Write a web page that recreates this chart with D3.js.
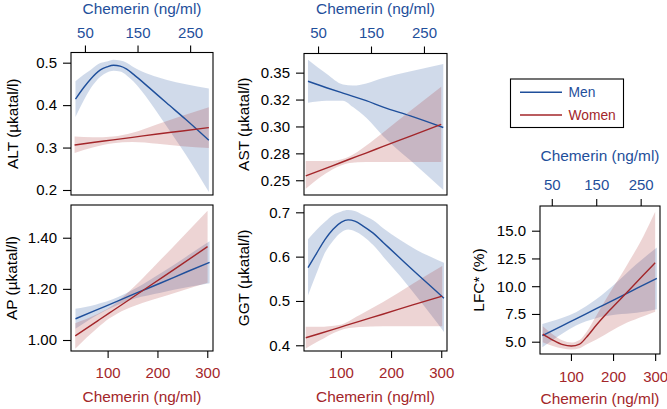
<!DOCTYPE html>
<html><head><meta charset="utf-8">
<script src="https://cdn.jsdelivr.net/npm/d3@7"></script>
<style>
body{margin:0;background:#fff}
svg{display:block}
text{font-family:"Liberation Sans",Arial,Helvetica,sans-serif}
</style>
</head><body>
<svg id="c" width="667" height="409"></svg>
<script>
// ---------------- data ----------------
const seriesNames = ["Men", "Women"];
const menTicks = [50, 150, 250];
const womTicks = [100, 200, 300];
const xTitle = "Chemerin (ng/ml)";

// ALT
const altMenX   = [32, 48.1, 60.6, 79.4, 91.9, 104.4, 116.9, 129.4, 141.9, 173.1, 204.4, 241.9, 285.6];
const altMenFit = [0.414, 0.442, 0.461, 0.483, 0.490, 0.494, 0.492, 0.485, 0.473, 0.440, 0.406, 0.366, 0.317];
const altMenLo  = [0.372, 0.412, 0.439, 0.467, 0.477, 0.481, 0.479, 0.470, 0.456, 0.408, 0.352, 0.283, 0.195];
const altMenHi  = [0.456, 0.472, 0.483, 0.499, 0.503, 0.507, 0.505, 0.500, 0.490, 0.472, 0.460, 0.449, 0.439];
const altWomX   = [33.7, 70, 111, 150, 200, 250, 303.2];
const altWomFit = [0.306, 0.312, 0.318, 0.324, 0.332, 0.339, 0.347];
const altWomLo  = [0.287, 0.300, 0.310, 0.313, 0.309, 0.303, 0.299];
const altWomHi  = [0.326, 0.324, 0.326, 0.335, 0.355, 0.375, 0.395];
const altTicks  = [0.2, 0.3, 0.4, 0.5];
const altLabels = ["0.2", "0.3", "0.4", "0.5"];

// AST
const astMenX   = [31, 66, 97, 116, 141, 173, 223, 286.5];
const astMenFit = [0.342, 0.336, 0.331, 0.328, 0.324, 0.318, 0.310, 0.299];
const astMenLo  = [0.322, 0.324, 0.324, 0.318, 0.308, 0.291, 0.269, 0.241];
const astMenHi  = [0.362, 0.349, 0.339, 0.338, 0.340, 0.345, 0.351, 0.358];
const astWomX   = [30, 83, 117, 150, 183, 240, 300];
const astWomFit = [0.254, 0.2634, 0.2695, 0.2753, 0.2812, 0.2913, 0.302];
const astWomLo  = [0.242, 0.260, 0.266, 0.267, 0.267, 0.267, 0.267];
const astWomHi  = [0.268, 0.268, 0.272, 0.282, 0.294, 0.315, 0.337];
const astTicks  = [0.25, 0.275, 0.30, 0.325, 0.35];
const astLabels = ["0.25", "0.28", "0.30", "0.32", "0.35"];

// AP
const apMenX    = [32, 70, 112, 145, 194, 244, 287];
const apMenFit  = [1.083, 1.116, 1.152, 1.181, 1.223, 1.267, 1.304];
const apMenLo   = [1.044, 1.094, 1.137, 1.162, 1.185, 1.206, 1.222];
const apMenHi   = [1.122, 1.138, 1.167, 1.200, 1.261, 1.328, 1.386];
const apWomX    = [35, 80, 103, 120, 152, 190, 247, 300.6];
const apWomFit  = [1.016, 1.075, 1.105, 1.127, 1.169, 1.219, 1.294, 1.365];
const apWomLo   = [0.966, 1.048, 1.084, 1.104, 1.132, 1.157, 1.192, 1.224];
const apWomHi   = [1.066, 1.102, 1.126, 1.150, 1.206, 1.281, 1.396, 1.506];
const apTicks   = [1.0, 1.2, 1.4];
const apLabels  = ["1.00", "1.20", "1.40"];

// GGT
const ggtMenX   = [31.1, 47, 62.7, 78.4, 94.2, 106.8, 119.4, 135.2, 154.1, 173, 204.5, 236.1, 267.6, 287.8];
const ggtMenFit = [0.575, 0.607, 0.638, 0.662, 0.678, 0.683, 0.680, 0.669, 0.653, 0.632, 0.597, 0.562, 0.528, 0.506];
const ggtMenLo  = [0.513, 0.562, 0.608, 0.636, 0.655, 0.661, 0.657, 0.646, 0.626, 0.600, 0.557, 0.510, 0.462, 0.430];
const ggtMenHi  = [0.639, 0.660, 0.678, 0.694, 0.702, 0.705, 0.703, 0.694, 0.682, 0.664, 0.638, 0.615, 0.597, 0.586];
const ggtWomX   = [30, 56.6, 96.6, 136.6, 183.3, 243.3, 302];
const ggtWomFit = [0.417, 0.426, 0.440, 0.454, 0.470, 0.491, 0.511];
const ggtWomLo  = [0.393, 0.410, 0.433, 0.441, 0.443, 0.443, 0.443];
const ggtWomHi  = [0.442, 0.442, 0.446, 0.468, 0.497, 0.539, 0.579];
const ggtTicks  = [0.4, 0.5, 0.6, 0.7];
const ggtLabels = ["0.4", "0.5", "0.6", "0.7"];

// LFC
const lfcMenX   = [28.8, 74.2, 104.5, 150, 195.5, 240.9, 286.4];
const lfcMenFit = [5.54, 6.45, 7.06, 7.97, 8.89, 9.80, 10.71];
const lfcMenLo  = [4.49, 5.75, 6.46, 7.12, 7.44, 7.60, 7.93];
const lfcMenHi  = [6.59, 7.15, 7.66, 8.82, 10.34, 12.00, 13.49];
const lfcWomX   = [33, 56.9, 80.8, 100.7, 120.6, 136.6, 160.5, 192.4, 232.2, 272.1, 300];
const lfcWomFit = [5.69, 5.15, 4.73, 4.61, 4.79, 5.39, 6.50, 7.85, 9.41, 11.0, 12.11];
const lfcWomLo  = [4.95, 4.62, 4.38, 4.30, 4.42, 4.75, 5.20, 5.90, 6.70, 7.30, 7.70];
const lfcWomHi  = [6.40, 5.65, 5.10, 4.92, 5.15, 5.85, 7.35, 9.40, 11.85, 14.50, 16.70];
const lfcTicks  = [5.0, 7.5, 10.0, 12.5, 15.0];
const lfcLabels = ["5.0", "7.5", "10.0", "12.5", "15.0"];

// ---------------- styling / layout ----------------
const BLUE = "#1f4f9b", RED = "#a3262a";
const menXDomain = [23.5, 293.5];
const womXDomain = [26.5, 311.5];

const zip = (xs, f, lo, hi) => xs.map((x, i) => ({x, f: f[i], lo: lo[i], hi: hi[i]}));

const panels = [
  {title: "ALT (µkatal/l)", x0: 71, x1: 213, y0: 52.5, y1: 195, yDom: [0.1882, 0.524], ticks: altTicks, labels: altLabels,
   men: zip(altMenX, altMenFit, altMenLo, altMenHi), wom: zip(altWomX, altWomFit, altWomLo, altWomHi),
   yTitleX: 12.5, top: {tick: 37.6, title: 13.7}},
  {title: "AST (µkatal/l)", x0: 304, x1: 447, y0: 53.5, y1: 195, yDom: [0.2363, 0.3678], ticks: astTicks, labels: astLabels,
   men: zip(astMenX, astMenFit, astMenLo, astMenHi), wom: zip(astWomX, astWomFit, astWomLo, astWomHi),
   yTitleX: 243.7, top: {tick: 37.6, title: 13.7}},
  {title: "AP (µkatal/l)", x0: 71, x1: 213, y0: 205, y1: 351, yDom: [0.957, 1.528], ticks: apTicks, labels: apLabels,
   men: zip(apMenX, apMenFit, apMenLo, apMenHi), wom: zip(apWomX, apWomFit, apWomLo, apWomHi),
   yTitleX: 12, bottom: {tick: 378, title: 402}},
  {title: "GGT (µkatal/l)", x0: 304, x1: 447, y0: 205, y1: 351, yDom: [0.3871, 0.7165], ticks: ggtTicks, labels: ggtLabels,
   men: zip(ggtMenX, ggtMenFit, ggtMenLo, ggtMenHi), wom: zip(ggtWomX, ggtWomFit, ggtWomLo, ggtWomHi),
   yTitleX: 243.7, bottom: {tick: 378, title: 402}},
  {title: "LFC* (%)", x0: 540, x1: 660, y0: 206, y1: 354, yDom: [3.892, 17.225], ticks: lfcTicks, labels: lfcLabels,
   men: zip(lfcMenX, lfcMenFit, lfcMenLo, lfcMenHi), wom: zip(lfcWomX, lfcWomFit, lfcWomLo, lfcWomHi),
   yTitleX: 479, top: {tick: 190, title: 161}, bottom: {tick: 381.5, title: 403.5}}
];

const svg = d3.select("#c");
svg.append("rect").attr("width", 667).attr("height", 409).attr("fill", "#fff");

function drawPanel(p) {
  const g = svg.append("g");
  const xm = d3.scaleLinear().domain(menXDomain).range([p.x0, p.x1]);
  const xw = d3.scaleLinear().domain(womXDomain).range([p.x0, p.x1]);
  const y = d3.scaleLinear().domain(p.yDom).range([p.y1, p.y0]);

  const area = xs => d3.area().x(d => xs(d.x)).y0(d => y(d.lo)).y1(d => y(d.hi)).curve(d3.curveMonotoneX);
  const line = xs => d3.line().x(d => xs(d.x)).y(d => y(d.f)).curve(d3.curveMonotoneX);

  g.append("path").datum(p.men).attr("d", area(xm)).attr("fill", BLUE).attr("fill-opacity", 0.21);
  g.append("path").datum(p.wom).attr("d", area(xw)).attr("fill", RED).attr("fill-opacity", 0.2);
  g.append("path").datum(p.men).attr("d", line(xm)).attr("fill", "none").attr("stroke", BLUE).attr("stroke-width", 1.4);
  g.append("path").datum(p.wom).attr("d", line(xw)).attr("fill", "none").attr("stroke", RED).attr("stroke-width", 1.4);

  g.append("rect").attr("x", p.x0).attr("y", p.y0).attr("width", p.x1 - p.x0).attr("height", p.y1 - p.y0)
    .attr("fill", "none").attr("stroke", "#000").attr("stroke-width", 1.1);

  // y axis
  const ya = g.append("g").attr("transform", `translate(${p.x0},0)`)
    .call(d3.axisLeft(y).tickValues(p.ticks).tickFormat((d, i) => p.labels[i]).tickSize(8).tickPadding(6));
  ya.select(".domain").remove();
  ya.selectAll("line").attr("stroke", "#000").attr("stroke-width", 1.1);
  ya.selectAll("text").attr("font-size", 15).attr("fill", "#000")
    .style("font-family", '"Liberation Sans",Arial,sans-serif');

  g.append("text").attr("transform", `translate(${p.yTitleX},${(p.y0 + p.y1) / 2}) rotate(-90)`)
    .attr("text-anchor", "middle").attr("dy", "0.35em").attr("font-size", 15.4).attr("fill", "#000").text(p.title);

  if (p.top) {
    const ta = g.append("g").attr("transform", `translate(0,${p.y0})`)
      .call(d3.axisTop(xm).tickValues(menTicks).tickFormat(d3.format("d")).tickSize(7));
    ta.select(".domain").remove();
    ta.selectAll("line").attr("stroke", "#000").attr("stroke-width", 1.1);
    ta.selectAll("text").attr("font-size", 15).attr("fill", BLUE).attr("y", p.top.tick - p.y0).attr("dy", 0)
      .style("font-family", '"Liberation Sans",Arial,sans-serif');
    g.append("text").attr("x", (p.x0 + p.x1) / 2).attr("y", p.top.title).attr("text-anchor", "middle")
      .attr("font-size", 15.4).attr("fill", BLUE).text(xTitle);
  }
  if (p.bottom) {
    const ba = g.append("g").attr("transform", `translate(0,${p.y1})`)
      .call(d3.axisBottom(xw).tickValues(womTicks).tickFormat(d3.format("d")).tickSize(7));
    ba.select(".domain").remove();
    ba.selectAll("line").attr("stroke", "#000").attr("stroke-width", 1.1);
    ba.selectAll("text").attr("font-size", 15).attr("fill", RED).attr("y", p.bottom.tick - p.y1).attr("dy", 0)
      .style("font-family", '"Liberation Sans",Arial,sans-serif');
    g.append("text").attr("x", (p.x0 + p.x1) / 2).attr("y", p.bottom.title).attr("text-anchor", "middle")
      .attr("font-size", 15.4).attr("fill", RED).text(xTitle);
  }
}
panels.forEach(drawPanel);

// legend
const leg = svg.append("g");
leg.append("rect").attr("x", 510.5).attr("y", 79).attr("width", 113).attr("height", 48.5)
  .attr("fill", "#fff").attr("stroke", "#000").attr("stroke-width", 1.1);
const legColors = [BLUE, RED];
const legY = d3.scalePoint().domain(seriesNames).range([92.3, 115]);
seriesNames.forEach((s, i) => {
  leg.append("line").attr("x1", 520).attr("x2", 562).attr("y1", legY(s)).attr("y2", legY(s))
    .attr("stroke", legColors[i]).attr("stroke-width", 1.4);
  leg.append("text").attr("x", 568.5).attr("y", legY(s)).attr("dy", "0.36em")
    .attr("font-size", 13.8).attr("fill", legColors[i]).text(s);
});
</script>
</body></html>
